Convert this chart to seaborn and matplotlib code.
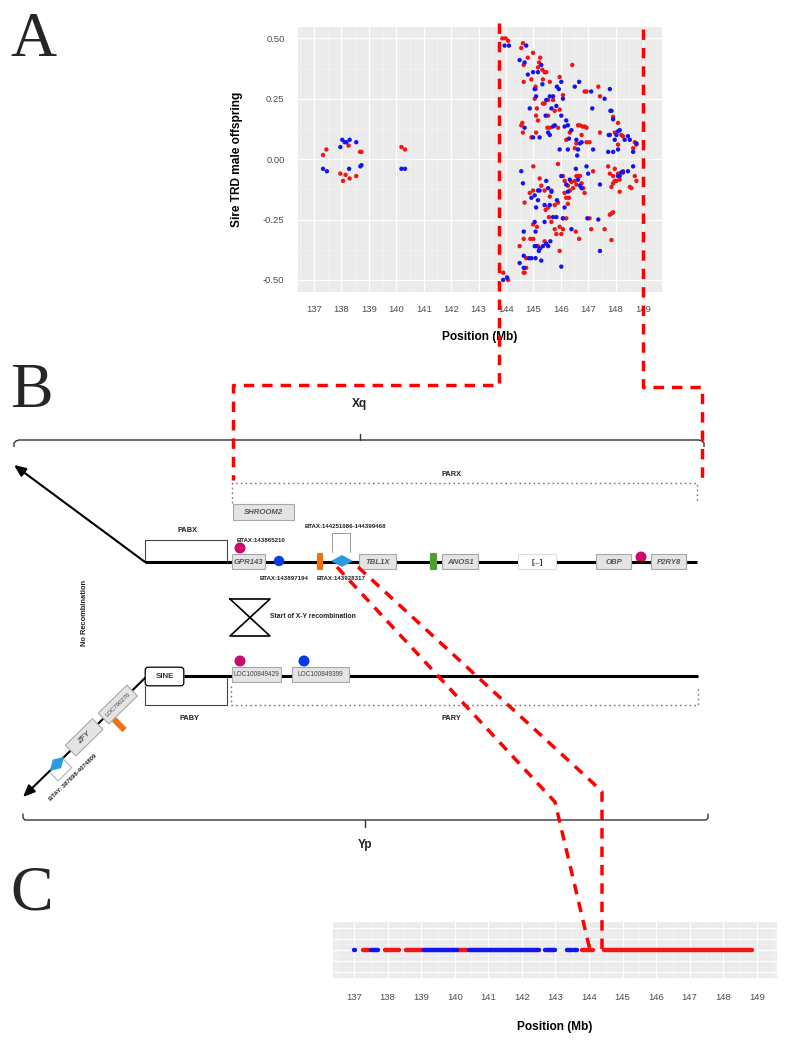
import numpy as np
import pandas as pd
import matplotlib
matplotlib.use("Agg")
import matplotlib.pyplot as plt
import matplotlib.patches as mpatches
from matplotlib.ticker import MultipleLocator
import seaborn as sns

sns.set_style("white")
plt.rcParams['font.family'] = ['Liberation Sans', 'DejaVu Sans']

# ---------------- data: panel A (sire TRD, male offspring) ----------------
red_points = [
    (137.33, 0.017), (137.45, 0.04), (137.96, -0.06), (138.06, -0.09), (138.15, -0.065),
    (138.30, -0.08), (138.26, 0.056), (138.54, -0.07), (138.73, 0.03), (138.68, 0.03),
    (140.19, 0.05), (140.32, 0.04),
    (143.87, 0.50), (143.99, 0.50), (144.08, 0.49), (143.90, -0.47), (144.08, -0.50),
    (144.56, 0.46), (144.62, 0.48), (144.65, 0.39), (144.65, 0.32), (144.80, 0.42),
    (144.56, 0.14), (144.60, 0.15), (144.62, 0.11), (144.68, -0.18), (144.50, -0.36),
    (144.65, -0.33), (144.68, -0.47), (144.74, -0.45), (144.65, -0.47), (144.74, -0.41),
    (144.93, 0.33), (144.99, 0.44), (145.08, 0.29), (145.05, 0.25), (145.17, 0.38),
    (145.21, 0.40), (145.25, 0.42), (145.10, 0.18), (145.13, 0.21), (145.08, 0.30),
    (145.17, 0.16), (144.93, 0.09), (145.10, 0.11), (145.00, -0.03), (144.87, -0.14),
    (144.99, -0.13), (145.23, -0.08), (144.89, -0.33), (145.00, -0.33), (144.99, -0.27),
    (145.17, -0.36), (145.25, -0.37), (145.13, -0.28),
    (145.33, 0.37), (145.41, 0.36), (145.47, 0.36), (145.35, 0.33), (145.60, 0.32),
    (145.54, 0.245), (145.41, 0.23), (145.35, 0.23), (145.72, 0.245), (145.78, 0.20),
    (145.51, 0.13), (145.60, 0.13), (145.54, 0.18), (145.29, -0.11), (145.41, -0.13),
    (145.45, -0.21), (145.54, -0.20), (145.60, -0.155), (145.66, -0.13), (145.57, -0.24),
    (145.66, -0.26), (145.78, -0.29), (145.84, -0.31), (145.41, -0.34), (145.78, -0.19),
    (145.90, -0.18),
    (145.96, 0.34), (146.08, 0.265), (145.96, 0.205), (145.90, 0.13), (146.20, 0.08),
    (146.33, 0.11), (146.42, 0.39), (145.90, -0.02), (146.08, -0.07), (146.14, -0.09),
    (146.26, -0.11), (146.33, -0.13), (146.20, -0.16), (146.30, -0.16), (146.14, -0.14),
    (146.20, -0.245), (146.08, -0.245), (145.96, -0.28), (146.08, -0.29), (146.02, -0.31),
    (145.96, -0.38), (146.39, -0.095), (146.26, -0.185),
    (146.63, 0.14), (146.70, 0.14), (146.79, 0.135), (146.87, 0.135), (146.94, 0.13),
    (146.57, 0.065), (146.51, 0.045), (146.76, 0.10), (146.94, 0.07), (146.94, 0.28),
    (146.87, 0.28), (146.57, -0.07), (146.63, -0.07), (146.70, -0.07), (146.76, -0.10),
    (146.82, -0.12), (146.87, -0.14), (146.51, -0.09), (146.55, -0.30), (146.67, -0.33),
    (146.45, -0.12), (146.57, -0.105),
    (147.05, 0.07), (147.11, -0.29), (147.18, -0.05), (147.05, -0.245), (147.37, 0.30),
    (147.43, 0.26), (147.43, 0.11), (147.60, -0.29), (147.79, -0.23), (147.85, -0.335),
    (147.73, -0.03), (147.79, -0.06),
    (147.91, 0.175), (147.97, 0.11), (148.09, 0.15), (148.21, 0.10), (148.27, 0.095),
    (148.09, 0.06), (148.70, 0.07), (148.64, 0.045), (148.76, 0.06), (147.91, -0.10),
    (147.97, -0.09), (148.03, -0.09), (148.15, -0.085), (147.91, -0.07), (147.97, -0.04),
    (148.09, -0.06), (148.27, -0.05), (147.85, -0.225), (147.91, -0.22), (148.15, -0.135),
    (148.52, -0.115), (148.58, -0.12), (148.76, -0.09), (148.70, -0.07), (147.85, -0.115),
]
blue_points = [
    (137.33, -0.04), (137.47, -0.05), (137.96, 0.05), (138.03, 0.08), (138.12, 0.07),
    (138.18, 0.07), (138.30, 0.08), (138.28, -0.04), (138.54, 0.07), (138.73, -0.025),
    (138.69, -0.03),
    (140.19, -0.04), (140.32, -0.04),
    (143.95, 0.47), (144.11, 0.47), (143.90, -0.50), (144.04, -0.49),
    (144.50, 0.41), (144.68, 0.40), (144.74, 0.47), (144.80, 0.35), (144.68, 0.13),
    (144.56, -0.05), (144.62, -0.10), (144.50, -0.43), (144.65, -0.30), (144.65, -0.40),
    (144.65, -0.45), (144.84, -0.41),
    (144.87, 0.21), (144.99, 0.36), (145.05, 0.29), (145.10, 0.26), (145.17, 0.36),
    (144.99, 0.09), (145.23, 0.09), (144.93, -0.16), (145.05, -0.15), (145.17, -0.17),
    (145.10, -0.20), (145.17, -0.13), (145.23, -0.13), (145.05, -0.26), (145.08, -0.30),
    (145.05, -0.36), (145.10, -0.36), (145.20, -0.38), (145.29, -0.42), (144.93, -0.41),
    (145.08, -0.41), (145.23, -0.37),
    (145.29, 0.39), (145.33, 0.31), (145.47, 0.245), (145.60, 0.26), (145.66, 0.21),
    (145.72, 0.26), (145.45, 0.18), (145.60, 0.10), (145.54, 0.11), (145.72, 0.135),
    (145.78, 0.14), (145.84, 0.22), (145.86, 0.30), (145.47, -0.09), (145.54, -0.12),
    (145.66, -0.135), (145.41, -0.19), (145.60, -0.19), (145.72, -0.24), (145.84, -0.24),
    (145.41, -0.26), (145.47, -0.35), (145.54, -0.36), (145.62, -0.34), (145.35, -0.36),
    (145.86, -0.17),
    (145.93, 0.29), (146.02, 0.32), (146.08, 0.25), (146.02, 0.18), (146.20, 0.16),
    (146.26, 0.14), (146.39, 0.12), (146.30, 0.085), (145.96, 0.04), (146.26, 0.04),
    (146.14, 0.135), (146.02, -0.07), (146.20, -0.105), (146.26, -0.135), (146.14, -0.20),
    (146.08, -0.245), (146.02, -0.445), (146.39, -0.29), (146.33, -0.085),
    (146.51, 0.30), (146.67, 0.32), (146.57, 0.08), (146.63, 0.04), (146.70, 0.065),
    (146.76, 0.07), (146.60, 0.015), (146.55, -0.04), (146.63, -0.085), (146.70, -0.11),
    (146.76, -0.12), (146.94, -0.03), (147.00, -0.06), (146.97, -0.245),
    (147.11, 0.28), (147.15, 0.21), (147.18, 0.04), (147.37, -0.25), (147.43, -0.105),
    (147.43, -0.38), (147.60, 0.25), (147.79, 0.29), (147.73, 0.03), (147.81, 0.20),
    (147.75, 0.10),
    (147.85, 0.20), (147.91, 0.165), (148.03, 0.10), (148.09, 0.115), (148.15, 0.12),
    (147.97, 0.08), (148.09, 0.04), (148.33, 0.08), (148.45, 0.095), (148.52, 0.08),
    (148.64, 0.03), (148.76, 0.065), (148.09, -0.07), (148.15, -0.07), (148.21, -0.055),
    (148.27, -0.055), (148.45, -0.05), (148.64, -0.03), (147.79, 0.10), (147.91, 0.03),
]
a_yticks = [-0.50, -0.25, 0.00, 0.25, 0.50]
a_ytick_labels = ["-0.50", "-0.25", "0.00", "0.25", "0.50"]
pos_ticks = list(range(137, 150))

# ---------------- data: panel C (runs of markers along position) ----------------
c_start = [137.00, 137.18, 137.28, 137.50, 137.92, 138.54, 139.10, 140.10, 140.42,
           142.70, 143.35, 143.55, 143.80, 144.45]
c_end = [137.02, 137.19, 137.46, 137.72, 138.34, 139.05, 140.08, 140.38, 142.50,
         143.00, 143.50, 143.65, 144.12, 148.85]
c_color = ["blue", "red", "red", "blue", "red", "red", "blue", "red", "blue",
           "blue", "blue", "blue", "red", "red"]

RED = "#F31414"
BLUE = "#1414F0"
palette = {"red": RED, "blue": BLUE}
BG = "#EBEBEB"

W, H = 787, 1042
fig = plt.figure(figsize=(W / 100, H / 100), dpi=100)


def frac(x0, y0, x1, y1):
    return [x0 / W, 1 - y1 / H, (x1 - x0) / W, (y1 - y0) / H]


def gg_style(ax):
    ax.set_facecolor(BG)
    for s in ax.spines.values():
        s.set_visible(False)
    ax.grid(True, which="major", color="white", lw=0.9)
    ax.grid(True, which="minor", color="#F7F7F7", lw=0.4)
    ax.set_axisbelow(True)
    ax.tick_params(which="major", length=2.2, width=0.6, color="#333333",
                   labelcolor="#4D4D4D", labelsize=6.8, pad=7.5)
    ax.tick_params(which="minor", length=0)


# ---------------- panel A ----------------
axA = fig.add_axes(frac(298, 27, 662, 292))
dfA = pd.DataFrame(
    [(p, t, "red") for p, t in red_points] + [(p, t, "blue") for p, t in blue_points],
    columns=["pos", "trd", "allele"])
sns.scatterplot(data=dfA, x="pos", y="trd", hue="allele", palette=palette,
                s=10, linewidth=0, legend=False, ax=axA)
axA.set_xlim(136.416, 149.693)
axA.set_ylim(-0.550, 0.547)
axA.set_xticks(pos_ticks)
axA.set_xticklabels([str(t) for t in pos_ticks])
axA.set_yticks(a_yticks)
axA.set_yticklabels(a_ytick_labels)
axA.xaxis.set_minor_locator(MultipleLocator(0.5))
axA.yaxis.set_minor_locator(MultipleLocator(0.125))
gg_style(axA)
axA.set_xlabel("Position (Mb)", fontsize=8.6, fontweight="bold", color="black")
axA.set_ylabel("Sire TRD male offspring", fontsize=8.6, fontweight="bold", color="black")
axA.xaxis.set_label_coords(0.5, -0.148)
axA.yaxis.set_label_coords(-0.151, 0.5)

# ---------------- panel C ----------------
axC = fig.add_axes(frac(333, 922, 777, 978))
for col in ["red", "blue"]:
    idx = [i for i, c in enumerate(c_color) if c == col]
    axC.hlines([0] * len(idx), [c_start[i] for i in idx], [c_end[i] for i in idx],
               colors=palette[col], lw=3.2, capstyle="round", zorder=3)
axC.set_xlim(136.375, 149.6)
axC.set_ylim(-1, 1)
axC.set_xticks(pos_ticks)
axC.set_xticklabels([str(t) for t in pos_ticks])
axC.set_yticks([-0.8, -0.4, 0, 0.4, 0.8])
axC.yaxis.set_minor_locator(MultipleLocator(0.2))
axC.xaxis.set_minor_locator(MultipleLocator(0.5))
gg_style(axC)
axC.tick_params(axis="y", which="both", length=0, labelleft=False)
axC.tick_params(axis="x", pad=8.5)
axC.set_xlabel("Position (Mb)", fontsize=8.6, fontweight="bold", color="black")
axC.xaxis.set_label_coords(0.5, -0.76)

# ---------------- overlay (panel B diagram, letters, connectors) ----------------
ov = fig.add_axes([0, 0, 1, 1], zorder=10)
ov.set_xlim(0, W)
ov.set_ylim(H, 0)
ov.axis("off")
ov.patch.set_alpha(0)

for letter, yb in [("A", 56), ("B", 407), ("C", 910)]:
    ov.text(10, yb, letter, fontsize=46, family="Liberation Serif", va="baseline", ha="left")

GENE_FC = "#E4E4E4"
GENE_EC = "#A8A8A8"
GENE_TC = "#555555"


def gene_box(x0, x1, y0, y1, label, italic=True, bold=True, fs=5.6, fc=GENE_FC,
             ec=GENE_EC, tc=GENE_TC):
    ov.add_patch(mpatches.Rectangle((x0, y0), x1 - x0, y1 - y0, fc=fc, ec=ec, lw=0.8, zorder=4))
    ov.text((x0 + x1) / 2, (y0 + y1) / 2 + 0.5, label, fontsize=fs, color=tc,
            style="italic" if italic else "normal", weight="bold" if bold else "normal",
            ha="center", va="center", zorder=5)


def label(x, y, s, fs=5.3, ha="center", weight="bold", color="#222222", **kw):
    ov.text(x, y, s, fontsize=fs, ha=ha, va="center", weight=weight, color=color,
            zorder=6, **kw)


# Xq brace
bc = "#333333"
ov.plot([14, 14, 16, 19, 699, 702, 704, 704], [447, 443, 441, 440, 440, 441, 443, 447],
        color=bc, lw=1.0, solid_capstyle="butt")
ov.plot([360, 360], [440, 434], color=bc, lw=1.0)
label(360, 404, "Xq", fs=8.6)

# arrow of X
ov.annotate("", xy=(14, 465), xytext=(145, 562),
            arrowprops=dict(arrowstyle="-|>,head_length=0.7,head_width=0.3", color="black",
                            lw=1.5, shrinkA=0, shrinkB=0))

# X chromosome line
ov.plot([145, 697], [562, 562], color="black", lw=2.2, zorder=3, solid_capstyle="butt")

# PABX bracket
ov.plot([145, 145, 227, 227], [562, 540, 540, 562], color="#444444", lw=0.8, zorder=2)
label(187, 531, "PABX")

# PARX dotted
ov.plot([232, 232, 697, 697], [503, 483, 483, 503], color="#777777", lw=1.0,
        linestyle=(0, (1.2, 2.2)), zorder=2)
label(451, 475, "PARX")

gene_box(233, 294, 504, 520, "SHROOM2")
gene_box(232, 265, 554, 569, "GPR143")
gene_box(359, 396, 554, 569, "TBL1X")
gene_box(442, 478, 554, 569, "ANOS1")
gene_box(518, 556, 554, 569, "[...]", italic=False, fc="white", ec="#DDDDDD", tc="#333333")
gene_box(596, 631, 554, 569, "OBP")
gene_box(651, 686, 554, 569, "P2RY8")

MAG = "#CC0A6C"
BLU_DOT = "#0A3BE6"
ORANGE = "#F07214"
GREEN = "#4DA02C"
DIAM = "#2A9CDE"

ov.add_patch(mpatches.Circle((240, 548), 5.5, fc=MAG, ec="none", zorder=4))
ov.add_patch(mpatches.Circle((279, 561), 5.2, fc=BLU_DOT, ec="none", zorder=4))
ov.add_patch(mpatches.Circle((641, 557), 5.5, fc=MAG, ec="none", zorder=2))
ov.add_patch(mpatches.FancyBboxPatch((317.5, 553.5), 5, 16, boxstyle="round,pad=0.6,rounding_size=1.5",
                                     fc=ORANGE, ec="none", zorder=4))
ov.add_patch(mpatches.FancyBboxPatch((430.5, 553.5), 6, 16, boxstyle="round,pad=0.6,rounding_size=1.5",
                                     fc=GREEN, ec="none", zorder=4))
ov.add_patch(mpatches.Polygon([(331, 561), (342, 555), (353, 561), (342, 567)],
                              closed=True, fc=DIAM, ec="none", zorder=4))
ov.plot([332, 332, 350, 350], [552, 533, 533, 552], color="#999999", lw=0.7, zorder=2)

label(237, 540, "BTAX:143865210", fs=4.4, ha="left")
label(284, 578, "BTAX:143897194", fs=4.4)
label(341, 578, "BTAX:143928317", fs=4.4)
label(345, 527, "BTAX:144251086-144399468", fs=4.4)

# hourglass
ov.plot([230, 270, 230, 270, 230], [599, 599, 636, 636, 599], color="black", lw=1.2, zorder=3)
label(270, 617, "Start of X-Y recombination", fs=4.9, ha="left")

label(85, 613, "No Recombination", fs=5.4, rotation=90)

# Y chromosome line
ov.plot([184, 698], [676, 676], color="black", lw=2.2, zorder=3, solid_capstyle="butt")
ov.add_patch(mpatches.FancyBboxPatch((146, 668), 37, 17, boxstyle="round,pad=0.8,rounding_size=3",
                                     fc="white", ec="black", lw=0.9, zorder=4))
label(164.5, 676.5, "SINE", fs=5.7, color="#333333")

ov.plot([145, 145, 227, 227], [686, 705, 705, 676], color="#444444", lw=0.8, zorder=2)
label(189, 718, "PABY")
ov.plot([231, 231, 698, 698], [686, 705, 705, 686], color="#777777", lw=1.0,
        linestyle=(0, (1.2, 2.2)), zorder=2)
label(451, 718, "PARY")

gene_box(232, 281, 667, 682, "LOC100849429", italic=False, bold=False, fs=4.7, tc="#444444")
gene_box(292, 349, 667, 682, "LOC100849399", italic=False, bold=False, fs=4.7, tc="#444444")
ov.add_patch(mpatches.Circle((240, 661), 5.5, fc=MAG, ec="none", zorder=4))
ov.add_patch(mpatches.Circle((304, 661), 5.5, fc=BLU_DOT, ec="none", zorder=4))

# Y short-arm diagonal
p0 = np.array([145.0, 678.0])
tip = np.array([23.0, 797.0])
u = (tip - p0) / np.linalg.norm(tip - p0)
v = np.array([-u[1], u[0]])
if v[1] < 0:
    v = -v
ang = np.degrees(np.arctan2(u[1], -u[0]))


def along(t, off=0.0):
    return p0 + u * t + v * off


def rot_rect(t0, t1, o0, o1, **kw):
    pts = [along(t0, o0), along(t1, o0), along(t1, o1), along(t0, o1)]
    ov.add_patch(mpatches.Polygon(pts, closed=True, **kw))


ov.annotate("", xy=tuple(tip), xytext=tuple(p0),
            arrowprops=dict(arrowstyle="-|>,head_length=0.7,head_width=0.3", color="black",
                            lw=1.5, shrinkA=0, shrinkB=0), zorder=3)
rot_rect(18, 58, -7.5, 7.5, fc=GENE_FC, ec=GENE_EC, lw=0.8, zorder=4)
c = along(38)
ov.text(c[0], c[1], "LOC790276", fontsize=4.3, color="#444444", rotation=ang,
        rotation_mode="anchor", ha="center", va="center", zorder=5)
rot_rect(48, 54, 8, 23, fc=ORANGE, ec="none", zorder=4)
rot_rect(66, 104, -7.5, 7.5, fc=GENE_FC, ec=GENE_EC, lw=0.8, zorder=4)
c = along(85)
ov.text(c[0], c[1], "ZFY", fontsize=5.6, color=GENE_TC, style="italic", weight="bold",
        rotation=ang, rotation_mode="anchor", ha="center", va="center", zorder=5)
dpts = [along(113, 0), along(123, -6), along(133, 0), along(123, 6)]
ov.add_patch(mpatches.Polygon(dpts, closed=True, fc=DIAM, ec="none", zorder=5))
bpts = [along(115, 2), along(115, 13), along(134, 13), along(134, 2)]
ov.plot([b[0] for b in bpts], [b[1] for b in bpts], color="#AAAAAA", lw=0.7, zorder=4)
c = along(121, 21)
ov.text(c[0], c[1], "BTAY: 387698-4074809", fontsize=4.3, color="#222222", weight="bold",
        rotation=ang, rotation_mode="anchor", ha="center", va="center", zorder=5)

# Yp brace
ov.plot([23, 23, 25, 28, 703, 706, 708, 708], [814, 818, 820, 820, 820, 820, 818, 814],
        color=bc, lw=1.0)
ov.plot([365, 365], [820, 827], color=bc, lw=1.0)
label(365, 845, "Yp", fs=8.6)

# red dashed connectors
dash_kw = dict(color="#FF0000", lw=2.5, linestyle=(0, (3.0, 2.3)), zorder=12,
               dash_capstyle="butt")
ov.plot([499, 499, 233, 233], [23, 385, 385, 480], **dash_kw)
ov.plot([643, 643, 702, 702], [29, 387, 387, 482], **dash_kw)
ov.plot([337, 555, 590, 594], [567, 802, 950, 946], **dash_kw)
ov.plot([358, 593, 602, 602], [567, 783, 792, 950], **dash_kw)

fig.savefig("out.png", dpi=100)
